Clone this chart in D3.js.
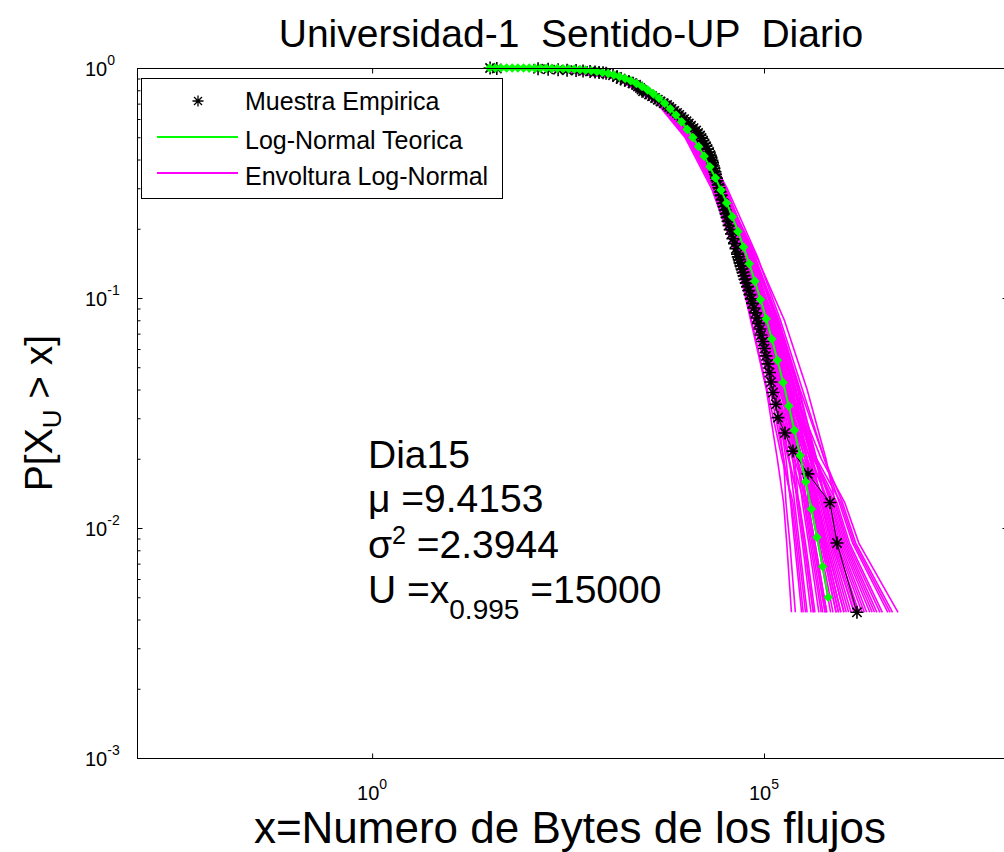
<!DOCTYPE html>
<html><head><meta charset="utf-8">
<script src="https://cdn.jsdelivr.net/npm/d3@7"></script>
<style>body{margin:0;background:#fff} svg text{font-family:"Liberation Sans",Arial,sans-serif;fill:#000}</style>
</head><body><svg id="c" width="1004" height="852"></svg>
<script>
// ---------- data ----------
const titleText = "Universidad-1  Sentido-UP  Diario";
const xLabelText = "x=Numero de Bytes de los flujos";
const legendLabels = ["Muestra Empirica", "Log-Normal Teorica", "Envoltura Log-Normal"];
const xTicks = [1, 1e5];
const yTicks = [1, 0.1, 0.01, 0.001];

// empirical CCDF (bytes, P[X>x])
const empX = [32,39,131,176,236,307,400,491,604,699,786,884,966,1186,1333,1479,1897,2330,2620,2862,3415,4070,4786,5794,6610,7770,8870,10260,11720,13580,15280,16680,18210,19880,21080,22030,23020,24060,25150,26680,28290,29990,31810,33730,35770,38490,42050,45930,49430,53970,57230,61630,66280,71300,77920,81480,85140,88950,91660,97100,101500,106100,112500,117500,122800,130200,142200,150900,185400,234500,364000,695000,855000,1535000,
  74500,68700,63800,59300,55600,52400,50900,48300,47000,43950,40270,37070,34750,32750,30900,29300,27600,26060,24720,23650,22630,21650,20590,19020,17420,15960,14390,12610,10960,9550,8280,7160,6180,5260,4410,3730,3126,2740,2470,2100,1670];
const empP = [1.0,0.9957,0.9914,0.9871,0.9828,0.9784,0.9741,0.9698,0.9655,0.9612,0.9569,0.9526,0.9483,0.9310,0.9138,0.8966,0.8707,0.8448,0.8190,0.7931,0.7672,0.7414,0.7155,0.6897,0.6638,0.6379,0.6121,0.5862,0.5603,0.5345,0.5086,0.4828,0.4569,0.4310,0.4095,0.3879,0.3664,0.3448,0.3233,0.3017,0.2802,0.2586,0.2414,0.2241,0.2069,0.1897,0.1724,0.1552,0.1422,0.1293,0.1207,0.1121,0.1034,0.0948,0.0862,0.0819,0.0776,0.0733,0.0690,0.0647,0.0603,0.0560,0.0517,0.0474,0.0431,0.0388,0.0345,0.0302,0.0259,0.0216,0.0172,0.0129,0.0086,0.0043,
  0.0905,0.0991,0.1078,0.1164,0.1250,0.1336,0.1379,0.1466,0.1509,0.1638,0.1810,0.1983,0.2155,0.2328,0.2500,0.2672,0.2888,0.3103,0.3319,0.3534,0.3750,0.3966,0.4181,0.4440,0.4698,0.4957,0.5216,0.5474,0.5733,0.5991,0.6250,0.6509,0.6767,0.7026,0.7284,0.7543,0.7802,0.8060,0.8319,0.8578,0.8836];

// theoretical log-normal CCDF (mu=9.4153, sigma^2=2.3944)
const theoryX = [31.6,37.3,44.1,52.0,61.4,72.4,85.5,100.9,119.1,140.6,166.0,195.9,231.2,272.9,322.1,380.2,448.7,529.6,625.2,737.9,871.0,1028,1213,1432,1690,1995,2355,2780,3281,3873,4571,5395,6368,7516,8872,10470,12360,14590,17220,20320,23990,28310,33420,39450,46560,54950,64860,76560,90360,106700,125900,148600,175400,207000,244300,288400,340400,401800,474200,559800,660700];
const theoryP = [0.99994,0.99991,0.99986,0.99979,0.99969,0.99955,0.99934,0.99904,0.99863,0.99807,0.99729,0.99625,0.99487,0.99305,0.99069,0.98765,0.98378,0.97892,0.97282,0.96540,0.95637,0.94553,0.93267,0.91758,0.90007,0.87980,0.85700,0.83148,0.80317,0.77217,0.73858,0.70228,0.66421,0.62438,0.58317,0.54102,0.49840,0.45581,0.41372,0.37221,0.33251,0.29460,0.25881,0.22543,0.19463,0.16652,0.14096,0.11840,0.09853,0.08121,0.06630,0.05359,0.04290,0.03393,0.02662,0.02068,0.01590,0.01210,0.00911,0.00680,0.00500];

// log-normal envelope: simulated curves, log10(bytes) at shared probability levels
const envP = [0.995,0.9,0.7,0.5,0.3,0.15,0.08,0.04,0.02,0.0129,0.0086,0.0043];
const envLog10X = [
 [2.39,3.24,3.75,4.10,4.45,4.82,5.08,5.33,5.58,5.76,5.89,6.18],
 [2.29,3.20,3.71,4.06,4.41,4.74,4.95,5.17,5.32,5.39,5.45,5.55],
 [2.51,3.29,3.80,4.15,4.50,4.88,5.15,5.41,5.62,5.73,5.85,6.11],
 [2.18,3.16,3.67,4.02,4.37,4.70,4.93,5.15,5.36,5.51,5.59,5.73],
 [2.36,3.23,3.74,4.09,4.44,4.80,5.06,5.31,5.63,5.90,6.05,6.44],
 [2.45,3.27,3.77,4.12,4.48,4.81,5.01,5.25,5.39,5.44,5.51,5.63],
 [2.32,3.21,3.72,4.07,4.42,4.80,5.09,5.34,5.61,5.81,5.95,6.28],
 [2.59,3.32,3.82,4.17,4.53,4.92,5.21,5.49,5.77,5.96,6.13,6.58],
 [2.09,3.12,3.64,3.99,4.33,4.65,4.87,5.08,5.25,5.35,5.41,5.50],
 [2.41,3.25,3.76,4.11,4.46,4.78,4.98,5.21,5.45,5.62,5.73,5.92],
 [2.24,3.18,3.70,4.05,4.39,4.75,5.00,5.23,5.49,5.68,5.79,6.02],
 [2.50,3.28,3.79,4.14,4.49,4.84,5.07,5.32,5.48,5.54,5.63,5.78],
 [2.35,3.22,3.73,4.08,4.43,4.74,4.91,5.13,5.25,5.28,5.33,5.40],
 [2.42,3.25,3.76,4.11,4.46,4.85,5.13,5.39,5.67,5.86,6.01,6.38],
 [2.27,3.19,3.71,4.06,4.40,4.77,5.04,5.28,5.48,5.59,5.69,5.85],
 [2.54,3.30,3.81,4.16,4.51,4.87,5.10,5.35,5.55,5.64,5.75,5.95],
 [2.21,3.17,3.69,4.04,4.38,4.67,4.84,5.04,5.23,5.37,5.43,5.53],
 [2.38,3.24,3.75,4.10,4.45,4.83,5.12,5.38,5.73,6.03,6.21,6.71],
 [2.30,3.21,3.72,4.07,4.42,4.77,5.02,5.26,5.52,5.71,5.83,6.08],
 [2.47,3.27,3.78,4.13,4.48,4.91,5.26,5.55,5.79,5.91,6.07,6.48],
 [2.15,3.15,3.66,4.01,4.36,4.71,4.97,5.20,5.46,5.66,5.77,5.98],
 [2.44,3.26,3.77,4.12,4.47,4.81,5.03,5.27,5.43,5.49,5.57,5.70],
 [2.33,3.22,3.73,4.08,4.43,4.81,5.11,5.37,5.55,5.62,5.73,5.92],
 [2.48,3.28,3.78,4.13,4.49,4.88,5.17,5.44,5.66,5.78,5.91,6.21],
 [2.23,3.18,3.69,4.04,4.39,4.74,4.99,5.22,5.37,5.42,5.49,5.60],
 [2.36,3.23,3.74,4.09,4.44,4.76,4.96,5.19,5.49,5.74,5.87,6.15],
 [2.53,3.30,3.80,4.15,4.51,4.84,5.05,5.29,5.59,5.83,5.97,6.31],
 [2.26,3.19,3.70,4.05,4.40,4.81,5.14,5.40,5.54,5.56,5.65,5.80],
 [2.41,3.25,3.76,4.11,4.46,4.75,4.89,5.10,5.31,5.45,5.53,5.65],
 [2.20,3.16,3.68,4.03,4.37,4.76,5.07,5.32,5.65,5.93,6.09,6.51],
 [2.14,3.14,3.66,4.01,4.35,4.65,4.83,5.03,5.17,5.25,5.29,5.35],
 [2.44,3.26,3.77,4.12,4.47,4.77,4.93,5.15,5.28,5.34,5.39,5.48],
 [2.38,3.24,3.75,4.10,4.45,4.80,5.05,5.29,5.52,5.68,5.79,6.02],
 [2.32,3.22,3.73,4.08,4.43,4.76,4.99,5.22,5.42,5.54,5.63,5.78],
 [2.47,3.27,3.78,4.13,4.48,4.85,5.12,5.38,5.65,5.85,5.99,6.35],
 [2.27,3.19,3.71,4.06,4.40,4.72,4.92,5.14,5.32,5.44,5.51,5.63],
 [2.41,3.25,3.76,4.11,4.46,4.86,5.18,5.45,5.67,5.79,5.93,6.25],
 [2.17,3.15,3.67,4.02,4.36,4.71,4.95,5.17,5.42,5.61,5.71,5.88],
 [2.50,3.29,3.79,4.14,4.50,4.85,5.08,5.33,5.55,5.69,5.81,6.05],
 [2.29,3.20,3.72,4.07,4.41,4.78,5.06,5.31,5.67,5.98,6.15,6.61],
 [2.37,3.23,3.74,4.09,4.44,4.78,5.01,5.25,5.43,5.52,5.61,5.75],
 [2.45,3.27,3.77,4.12,4.48,4.87,5.16,5.43,5.60,5.66,5.77,5.98],
 [2.34,3.22,3.73,4.08,4.43,4.76,4.97,5.20,5.45,5.64,5.75,5.95],
 [2.56,3.31,3.81,4.16,4.52,4.85,5.04,5.28,5.55,5.74,5.87,6.15],
 [2.21,3.17,3.69,4.04,4.38,4.78,5.10,5.35,5.65,5.88,6.03,6.41],
 [2.40,3.25,3.75,4.10,4.46,4.76,4.94,5.16,5.39,5.56,5.65,5.80],
 [2.31,3.21,3.72,4.07,4.42,4.78,5.03,5.27,5.55,5.78,5.91,6.21],
 [2.49,3.28,3.79,4.14,4.49,4.89,5.19,5.46,5.77,6.00,6.17,6.64]
];

// ---------- drawing ----------
const svg = d3.select("#c");
const L = 137, R = 1006, T = 68, B = 758;
const x = d3.scaleLog().domain([1e-3, 1e5]).range([L, 764]);
const y = d3.scaleLog().domain([1e-3, 1]).range([B, T]);
const MAG = "#ff00ff", GRN = "#00ff00";

svg.append("rect").attr("width", 1004).attr("height", 852).attr("fill", "#fff");

// envelope
const line = d3.line().x(d => x(d[0])).y(d => y(d[1]));
const gEnv = svg.append("g");
envLog10X.forEach(c => {
  gEnv.append("path")
    .datum(c.map((v, i) => [Math.pow(10, v), envP[i]]))
    .attr("d", line).attr("fill", "none").attr("stroke", MAG).attr("stroke-width", 1.6);
});

// empirical
const emp = d3.sort(empX.map((v, i) => [v, empP[i]]), d => d[0]);
svg.append("path").datum(emp).attr("d", line).attr("fill", "none").attr("stroke", "#000").attr("stroke-width", 1);
const star = r => { const d = r * 0.72; return `M${-r},0H${r}M0,${-r}V${r}M${-d},${-d}L${d},${d}M${-d},${d}L${d},${-d}`; };
svg.append("g").selectAll("path").data(emp).join("path")
  .attr("transform", d => `translate(${x(d[0])},${y(d[1])})`)
  .attr("d", star(6.5)).attr("stroke", "#000").attr("stroke-width", 1.6).attr("fill", "none");

// theoretical
const th = theoryX.map((v, i) => [v, theoryP[i]]);
svg.append("path").datum(th).attr("d", line).attr("fill", "none").attr("stroke", GRN).attr("stroke-width", 2);
svg.append("g").selectAll("path").data(th).join("path")
  .attr("transform", d => `translate(${x(d[0])},${y(d[1])})`)
  .attr("d", "M0,-4.8L4.8,0L0,4.8L-4.8,0Z").attr("fill", GRN);

// axes frame
svg.append("rect").attr("x", L + 0.5).attr("y", T + 0.5).attr("width", R - L).attr("height", B - T)
  .attr("fill", "none").attr("stroke", "#000").attr("stroke-width", 1);

const minorY = [];
[-3, -2, -1].forEach(e => { for (let m = 2; m <= 9; m++) minorY.push(m * Math.pow(10, e)); });

const ax = (g) => g.call(s => s.select(".domain").remove()).attr("font-size", 0);
svg.append("g").attr("transform", `translate(${L + 0.5},0)`).call(d3.axisRight(y).tickValues(yTicks).tickSize(5).tickFormat("")).call(ax);
svg.append("g").attr("transform", `translate(${L + 0.5},0)`).call(d3.axisRight(y).tickValues(minorY).tickSize(3).tickFormat("")).call(ax);
svg.append("g").attr("transform", `translate(${R + 0.5},0)`).call(d3.axisLeft(y).tickValues(yTicks).tickSize(4).tickFormat("")).call(ax);
svg.append("g").attr("transform", `translate(${R + 0.5},0)`).call(d3.axisLeft(y).tickValues(minorY).tickSize(2).tickFormat("")).call(ax);
svg.append("g").attr("transform", `translate(0,${B + 0.5})`).call(d3.axisTop(x).tickValues(xTicks).tickSize(5).tickFormat("")).call(ax);
svg.append("g").attr("transform", `translate(0,${T + 0.5})`).call(d3.axisBottom(x).tickValues(xTicks).tickSize(5).tickFormat("")).call(ax);
svg.selectAll(".tick line").attr("stroke", "#000");

// tick labels
yTicks.forEach(v => {
  const t = svg.append("text").attr("x", 85).attr("y", y(v) + 8).attr("font-size", 20);
  t.append("tspan").text("10");
  t.append("tspan").attr("dy", -11).attr("font-size", 14).text(String(Math.round(Math.log10(v))));
});
xTicks.forEach(v => {
  const t = svg.append("text").attr("x", x(v)).attr("y", 800).attr("font-size", 20).attr("text-anchor", "middle");
  t.append("tspan").text("10");
  t.append("tspan").attr("dy", -11).attr("font-size", 14).text(String(Math.round(Math.log10(v))));
});

// title and axis labels
svg.append("text").attr("x", 571).attr("y", 47).attr("text-anchor", "middle").attr("font-size", 39)
  .style("white-space", "pre").text(titleText);
svg.append("text").attr("x", 570).attr("y", 843).attr("text-anchor", "middle").attr("font-size", 44)
  .text(xLabelText);
const yl = svg.append("text").attr("transform", "translate(52,413) rotate(-90)").attr("text-anchor", "middle").attr("font-size", 39);
yl.append("tspan").text("P[X");
yl.append("tspan").attr("dy", 9).attr("font-size", 26).text("U");
yl.append("tspan").attr("dy", -9).style("white-space", "pre").text(" > x]");

// annotation
const ann = svg.append("g").attr("font-size", 39);
ann.append("text").attr("x", 368).attr("y", 468).text("Dia15");
ann.append("text").attr("x", 368).attr("y", 512).style("white-space", "pre").text("\u03bc =9.4153");
const s3 = ann.append("text").attr("x", 368).attr("y", 558).style("white-space", "pre");
s3.append("tspan").text("\u03c3");
s3.append("tspan").attr("dy", -14).attr("font-size", 25).text("2");
s3.append("tspan").attr("dy", 14).text(" =2.3944");
const s4 = ann.append("text").attr("x", 368).attr("y", 603).style("white-space", "pre");
s4.append("tspan").text("U =x");
s4.append("tspan").attr("dy", 16).attr("font-size", 28).text("0.995");
s4.append("tspan").attr("dy", -16).text(" =15000");

// legend
const lg = svg.append("g");
lg.append("rect").attr("x", 141.5).attr("y", 78.5).attr("width", 361).attr("height", 120)
  .attr("fill", "#fff").attr("stroke", "#000").attr("stroke-width", 1);
lg.append("path").attr("transform", "translate(198,101)").attr("d", star(5.5)).attr("stroke", "#000").attr("stroke-width", 1.3);
lg.append("line").attr("x1", 157).attr("x2", 238).attr("y1", 137).attr("y2", 137).attr("stroke", GRN).attr("stroke-width", 2);
lg.append("line").attr("x1", 157).attr("x2", 238).attr("y1", 173).attr("y2", 173).attr("stroke", MAG).attr("stroke-width", 2);
[110, 149, 185].forEach((yy, i) => {
  lg.append("text").attr("x", 245).attr("y", yy).attr("font-size", 25).text(legendLabels[i]);
});
</script></body></html>
